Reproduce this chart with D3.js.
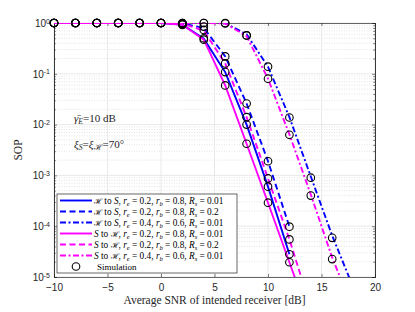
<!DOCTYPE html>
<html>
<head>
<meta charset="utf-8">
<script src="https://cdn.jsdelivr.net/npm/d3@7"></script>
<style>
  body { margin: 0; background: #fff; }
  svg { display: block; }
  .tick text { font-family: "Liberation Sans", Arial, sans-serif; font-size: 10px; fill: #262626; }
</style>
</head>
<body>
<svg width="415" height="312"></svg>
<script>
// SNR grid (dB) of theory curves and simulation points
var snr = [-10, -8, -6, -4, -2, 0, 2, 4, 6, 8, 10, 12, 14, 16, 18, 20];

// theory curves, null where nothing is plotted
var hsA = [1, 1, 1, 1, 1, 0.995, 0.93, 0.49, 0.108, 0.0100, 0.00060, 2.8e-5, null, null, null, null];
var hsB = [1, 1, 1, 1, 1, 0.999, 0.98, 0.80, 0.22, 0.026, 0.0019, 9.8e-5, null, null, null, null];
var hsC = [1, 1, 1, 1, 1, 1, 1, 1, 0.99, 0.60, 0.138, 0.0140, 0.00095, 6.5e-5, 6e-6, null];
var shA = [1, 1, 1, 1, 1, 0.995, 0.92, 0.47, 0.059, 0.0042, 0.00029, 1.95e-5, 1.3e-6, null, null, null];
var shB = [1, 1, 1, 1, 1, 0.999, 0.97, 0.71, 0.16, 0.014, 0.00087, 5.5e-5, 2.5e-6, null, null, null];
var shC = [1, 1, 1, 1, 1, 1, 1, 1, 0.98, 0.55, 0.080, 0.0064, 0.00042, 2.4e-5, 2.2e-6, null];

// simulation points
var simHsA = [1, 1, 1, 1, 1, 1, 0.94, 0.50, 0.108, 0.0100, 0.00060, 2.8e-5];
var simHsB = [1, 1, 1, 1, 1, 1, 0.98, 0.85, 0.22, 0.026, 0.0019, 9.8e-5];
var simHsC = [1, 1, 1, 1, 1, 1, 1, 1, 1, 0.57, 0.138, 0.0138, 0.0009, 5.9e-5];
var simShA = [1, 1, 1, 1, 1, 1, 0.92, 0.47, 0.059, 0.0042, 0.00029, 1.95e-5];
var simShB = [1, 1, 1, 1, 1, 1, 0.97, 0.73, 0.16, 0.014, 0.00087, 5.5e-5];
var simShC = [1, 1, 1, 1, 1, 1, 1, 1, 0.98, 0.57, 0.080, 0.0063, 0.0004, 2.25e-5];

// legend entries
var fromNode = ["H", "H", "H", "S", "S", "S"];
var reVals = ["0.2", "0.2", "0.4", "0.2", "0.2", "0.4"];
var rbVals = ["0.8", "0.8", "0.6", "0.8", "0.8", "0.6"];
var rsVals = ["0.01", "0.2", "0.01", "0.01", "0.2", "0.01"];

var xTicks = [-10, -5, 0, 5, 10, 15, 20];
var yExp = [0, -1, -2, -3, -4, -5];

var theory = [hsA, hsB, hsC, shA, shB, shC];
var sims = [simHsA, simHsB, simHsC, simShA, simShB, simShC];
var colors = ["#0000ff", "#0000ff", "#0000ff", "#ff00ff", "#ff00ff", "#ff00ff"];
var dashes = [null, "6,3.5", "6,2.5,2,2.5", null, "6,3.5", "6,2.5,2,2.5"];

var svg = d3.select("svg"),
    margin = {top: 23, right: 40, bottom: 35, left: 54},
    width = +svg.attr("width") - margin.left - margin.right,
    height = +svg.attr("height") - margin.top - margin.bottom;

var x = d3.scaleLinear().domain([-10, 20]).range([0, width]),
    y = d3.scaleLog().domain([1e-5, 1]).range([height, 0]);

var g = svg.append("g")
    .attr("transform", "translate(" + margin.left + "," + margin.top + ")");

// minor y values
var minors = [];
yExp.slice(0, 5).forEach(function(e) {
  for (var k = 2; k <= 9; k++) minors.push(k * Math.pow(10, e - 1));
});
var decades = yExp.map(function(e) { return Math.pow(10, e); });

// grid
g.append("g").selectAll("line").data(minors).enter().append("line")
    .attr("x1", 0).attr("x2", width)
    .attr("y1", function(d) { return y(d); }).attr("y2", function(d) { return y(d); })
    .attr("stroke", "#d0d0d0").attr("stroke-width", 0.6).attr("stroke-dasharray", "1,1.5");
g.append("g").selectAll("line").data(decades).enter().append("line")
    .attr("x1", 0).attr("x2", width)
    .attr("y1", function(d) { return y(d); }).attr("y2", function(d) { return y(d); })
    .attr("stroke", "#e3e3e3").attr("stroke-width", 0.8);
g.append("g").selectAll("line").data(xTicks).enter().append("line")
    .attr("y1", 0).attr("y2", height)
    .attr("x1", function(d) { return x(d); }).attr("x2", function(d) { return x(d); })
    .attr("stroke", "#e3e3e3").attr("stroke-width", 0.8);

// axes
var xAxis = g.append("g")
    .attr("transform", "translate(0," + height + ")")
    .call(d3.axisBottom(x).tickValues(xTicks).tickSize(-3).tickPadding(7).tickFormat(d3.format("d")));
g.append("g")
    .call(d3.axisTop(x).tickValues(xTicks).tickSize(-3).tickFormat(""));

var yAxis = g.append("g")
    .call(d3.axisLeft(y).tickValues(decades).tickSize(-3).tickPadding(4).tickFormat(""));
g.append("g").call(d3.axisLeft(y).tickValues(minors).tickSize(-1.8).tickFormat(""));
g.append("g").attr("transform", "translate(" + width + ",0)")
    .call(d3.axisRight(y).tickValues(decades).tickSize(-3).tickFormat(""));
g.append("g").attr("transform", "translate(" + width + ",0)")
    .call(d3.axisRight(y).tickValues(minors).tickSize(-1.8).tickFormat(""));

g.selectAll(".domain").attr("stroke", "#262626").attr("stroke-width", 0.7);
g.selectAll(".tick line").attr("stroke", "#262626").attr("stroke-width", 0.6);

yAxis.selectAll(".tick").each(function(d) {
  var t = d3.select(this).append("text")
      .attr("x", -4).attr("dy", "0.32em").attr("text-anchor", "end")
      .attr("fill", "#262626");
  t.append("tspan").text("10");
  t.append("tspan").attr("dy", "-0.45em").style("font-size", "7px")
      .text(Math.round(Math.log10(d)));
});

// lines
svg.append("clipPath").attr("id", "clip")
  .append("rect").attr("width", width).attr("height", height);

var line = d3.line()
    .defined(function(d) { return d[1] != null; })
    .x(function(d) { return x(d[0]); })
    .y(function(d) { return y(d[1]); });

var plot = g.append("g").attr("clip-path", "url(#clip)");
theory.forEach(function(s, i) {
  plot.append("path")
      .datum(snr.map(function(v, j) { return [v, s[j]]; }))
      .attr("fill", "none")
      .attr("stroke", colors[i])
      .attr("stroke-width", 1.9)
      .attr("stroke-dasharray", dashes[i])
      .attr("d", line);
});

sims.forEach(function(s) {
  g.append("g").selectAll("circle")
      .data(s.map(function(v, j) { return [snr[j], v]; }))
      .enter().append("circle")
      .attr("cx", function(d) { return x(d[0]); })
      .attr("cy", function(d) { return y(d[1]); })
      .attr("r", 3.8)
      .attr("fill", "none")
      .attr("stroke", "#000")
      .attr("stroke-width", 1.1);
});

// axis titles
var serif = "'Liberation Serif', 'Times New Roman', serif";
svg.append("text")
    .attr("x", margin.left + width / 2).attr("y", 304)
    .attr("text-anchor", "middle")
    .style("font-family", serif).style("font-size", "11.5px").attr("fill", "#262626")
    .text("Average SNR of intended receiver [dB]");
svg.append("text")
    .attr("transform", "translate(22," + (margin.top + height / 2) + ") rotate(-90)")
    .attr("text-anchor", "middle")
    .style("font-family", serif).style("font-size", "11.5px").attr("fill", "#262626")
    .text("SOP");

function sym(t, n) {
  if (n == "H") t.append("tspan").style("font-family", "'DejaVu Serif', serif").style("font-size", "0.85em").text("\u210B");
  else t.append("tspan").style("font-style", "italic").text("S");
}
function sub(t, s) {
  t.append("tspan").attr("dy", 2).style("font-size", "0.7em").style("font-style", "italic").text(s);
  return t.append("tspan").attr("dy", -2);
}

// annotations
var a1 = svg.append("text").attr("x", 74).attr("y", 122)
    .style("font-family", serif).style("font-size", "11px").attr("fill", "#262626");
a1.append("tspan").style("font-style", "italic").text("\u03B3\u0304");
sub(a1, "E").text("=10 dB");

var a2 = svg.append("text").attr("x", 74).attr("y", 148)
    .style("font-family", serif).style("font-size", "11px").attr("fill", "#262626");
a2.append("tspan").style("font-style", "italic").text("\u03BE");
sub(a2, "S").text("=");
a2.append("tspan").style("font-style", "italic").text("\u03BE");
a2.append("tspan").attr("dy", 2).style("font-size", "0.75em").style("font-family", "'DejaVu Serif', serif").text("\u210B");
a2.append("tspan").attr("dy", -2).text("=70\u00B0");

// legend
var lg = svg.append("g").attr("transform", "translate(57,194)");
lg.append("rect").attr("width", 180).attr("height", 79)
    .attr("fill", "#fff").attr("stroke", "#262626").attr("stroke-width", 0.7);

fromNode.forEach(function(n, i) {
  var yy = 6.5 + i * 11;
  lg.append("line").attr("x1", 3).attr("x2", 35).attr("y1", yy).attr("y2", yy)
      .attr("stroke", colors[i]).attr("stroke-width", 1.9).attr("stroke-dasharray", dashes[i]);
  var t = lg.append("text").attr("x", 37).attr("y", yy + 3.3)
      .style("font-family", serif).style("font-size", "9.3px").attr("fill", "#000");
  sym(t, n);
  t.append("tspan").text(" to ");
  sym(t, n == "H" ? "S" : "H");
  t.append("tspan").text(", ");
  t.append("tspan").style("font-style", "italic").text("r");
  sub(t, "e").text(" = " + reVals[i] + ", ");
  t.append("tspan").style("font-style", "italic").text("r");
  sub(t, "b").text(" = " + rbVals[i] + ", ");
  t.append("tspan").style("font-style", "italic").text("R");
  sub(t, "s").text(" = " + rsVals[i]);
});
lg.append("circle").attr("cx", 19).attr("cy", 72.5).attr("r", 3.8)
    .attr("fill", "none").attr("stroke", "#000").attr("stroke-width", 1.1);
lg.append("text").attr("x", 40).attr("y", 75.5)
    .style("font-family", serif).style("font-size", "9px").attr("fill", "#000")
    .text("Simulation");
</script>
</body>
</html>
